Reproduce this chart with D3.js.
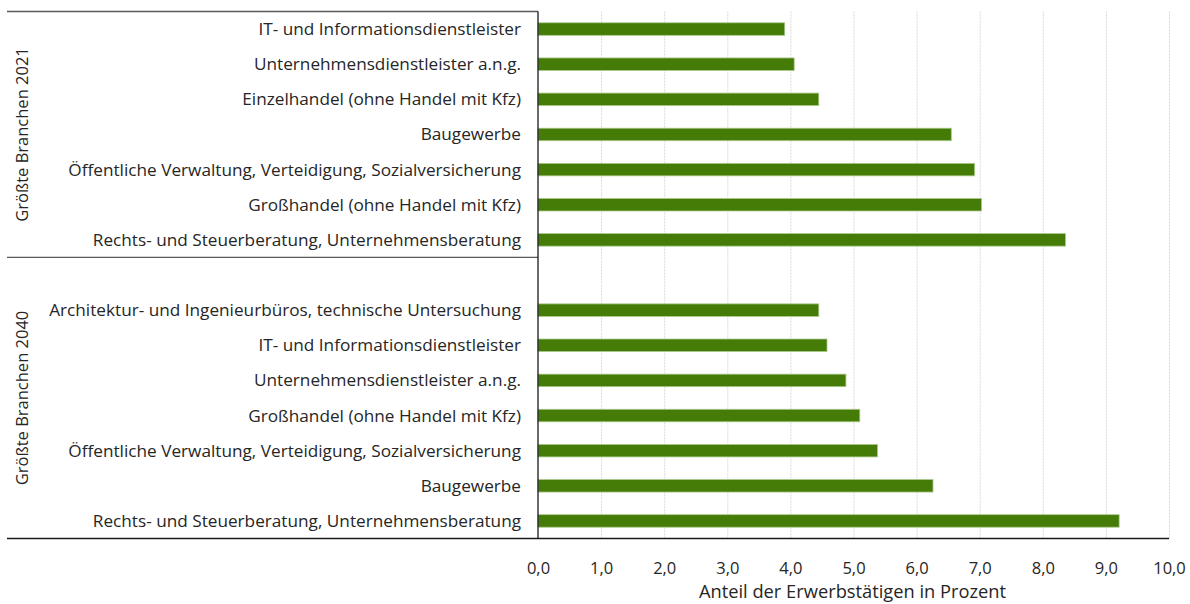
<!DOCTYPE html>
<html lang="de">
<head>
    <meta charset="UTF-8">
    <title>Größte Branchen 2021 und 2040</title>
    <script src="https://d3js.org/d3.v7.min.js"></script>
    <style>
        body { margin: 0; background: #fff; }
        .bar { fill: #457b07; stroke: #a9c98a; stroke-width: 0.8; }
        .cat { font: 17.2px "Open Sans", sans-serif; fill: #262626; text-anchor: end; }
        .tick text { font: 16.5px "Open Sans", sans-serif; fill: #262626; }
        .grid line { stroke: #d9d9d9; stroke-dasharray: 2,1; }
        .grid path, .xaxis path, .xaxis line { display: none; }
        .frame { stroke: #1a1a1a; stroke-width: 1.3; }
        .sep { stroke: #595959; stroke-width: 1.3; }
        .group { font: 16.5px "Open Sans", sans-serif; fill: #262626; text-anchor: middle; }
        .title { font: 18.3px "Open Sans", sans-serif; fill: #262626; text-anchor: middle; }
    </style>
</head>
<body>
<script>
    // data
    const cats2021 = ["IT- und Informationsdienstleister", "Unternehmensdienstleister a.n.g.",
        "Einzelhandel (ohne Handel mit Kfz)", "Baugewerbe",
        "Öffentliche Verwaltung, Verteidigung, Sozialversicherung",
        "Großhandel (ohne Handel mit Kfz)", "Rechts- und Steuerberatung, Unternehmensberatung"];
    const vals2021 = [3.91, 4.06, 4.45, 6.55, 6.92, 7.03, 8.36];
    const cats2040 = ["Architektur- und Ingenieurbüros, technische Untersuchung",
        "IT- und Informationsdienstleister", "Unternehmensdienstleister a.n.g.",
        "Großhandel (ohne Handel mit Kfz)",
        "Öffentliche Verwaltung, Verteidigung, Sozialversicherung",
        "Baugewerbe", "Rechts- und Steuerberatung, Unternehmensberatung"];
    const vals2040 = [4.45, 4.58, 4.88, 5.10, 5.38, 6.26, 9.21];
    const groupLabels = ["Größte Branchen 2021", "Größte Branchen 2040"];
    const xTicks = [0, 1, 2, 3, 4, 5, 6, 7, 8, 9, 10];
    const axisTitle = "Anteil der Erwerbstätigen in Prozent";

    // rows: group 1, one empty row, group 2
    const rows = [];
    cats2021.forEach((c, i) => rows.push({id: "a" + i, cat: c, value: vals2021[i], group: 0}));
    rows.push({id: "gap", cat: "", value: null, group: 1});
    cats2040.forEach((c, i) => rows.push({id: "b" + i, cat: c, value: vals2040[i], group: 1}));

    const W = 1190, H = 604;
    const plotL = 538, plotR = 1169, plotT = 11.5, plotB = 538.5;
    const frameL = 7;

    const svg = d3.select("body").append("svg")
        .attr("width", W).attr("height", H);

    const x = d3.scaleLinear().domain([0, 10]).range([plotL, plotR]);
    const y = d3.scaleBand().domain(rows.map(d => d.id)).range([plotT, plotB]).paddingInner(0).paddingOuter(0);
    const barH = 12.5;

    // gridlines
    svg.append("g").attr("class", "grid")
        .attr("transform", `translate(0,${plotT})`)
        .call(d3.axisBottom(x).tickValues(xTicks.slice(1)).tickSize(plotB - plotT).tickFormat(""));

    // bars
    const bars = rows.filter(d => d.value !== null);
    svg.selectAll(".bar").data(bars).enter().append("rect")
        .attr("class", "bar")
        .attr("x", x(0))
        .attr("y", d => y(d.id) + y.bandwidth() / 2 - barH / 2)
        .attr("width", d => x(d.value) - x(0))
        .attr("height", barH);

    // category labels
    svg.selectAll(".cat").data(bars).enter().append("text")
        .attr("class", "cat")
        .attr("x", plotL - 17)
        .attr("y", d => y(d.id) + y.bandwidth() / 2)
        .attr("dy", "0.35em")
        .text(d => d.cat);

    // frame lines
    svg.append("line").attr("class", "sep")
        .attr("x1", frameL).attr("x2", plotL).attr("y1", plotT).attr("y2", plotT);
    const sepY = y("gap");
    svg.append("line").attr("class", "sep")
        .attr("x1", frameL).attr("x2", plotL).attr("y1", sepY).attr("y2", sepY);
    svg.append("line").attr("class", "frame")
        .attr("x1", frameL).attr("x2", plotR).attr("y1", plotB).attr("y2", plotB);
    svg.append("line").attr("class", "frame")
        .attr("x1", plotL).attr("x2", plotL).attr("y1", plotT).attr("y2", plotB);

    // group labels (rotated)
    const groupSpans = [[plotT, sepY], [sepY, plotB]];
    groupLabels.forEach((g, i) => {
        const cy = (groupSpans[i][0] + groupSpans[i][1]) / 2;
        svg.append("text").attr("class", "group")
            .attr("transform", `translate(28,${cy}) rotate(-90)`)
            .text(g);
    });

    // x axis tick labels
    svg.append("g").attr("class", "xaxis")
        .attr("transform", `translate(0,${plotB + 21})`)
        .call(d3.axisBottom(x).tickValues(xTicks).tickSize(0)
            .tickFormat(d => d3.format(".1f")(d).replace(".", ",")));

    // axis title
    svg.append("text").attr("class", "title")
        .attr("x", (plotL + plotR) / 2 - 1)
        .attr("y", 598)
        .text(axisTitle);
</script>
</body>
</html>
